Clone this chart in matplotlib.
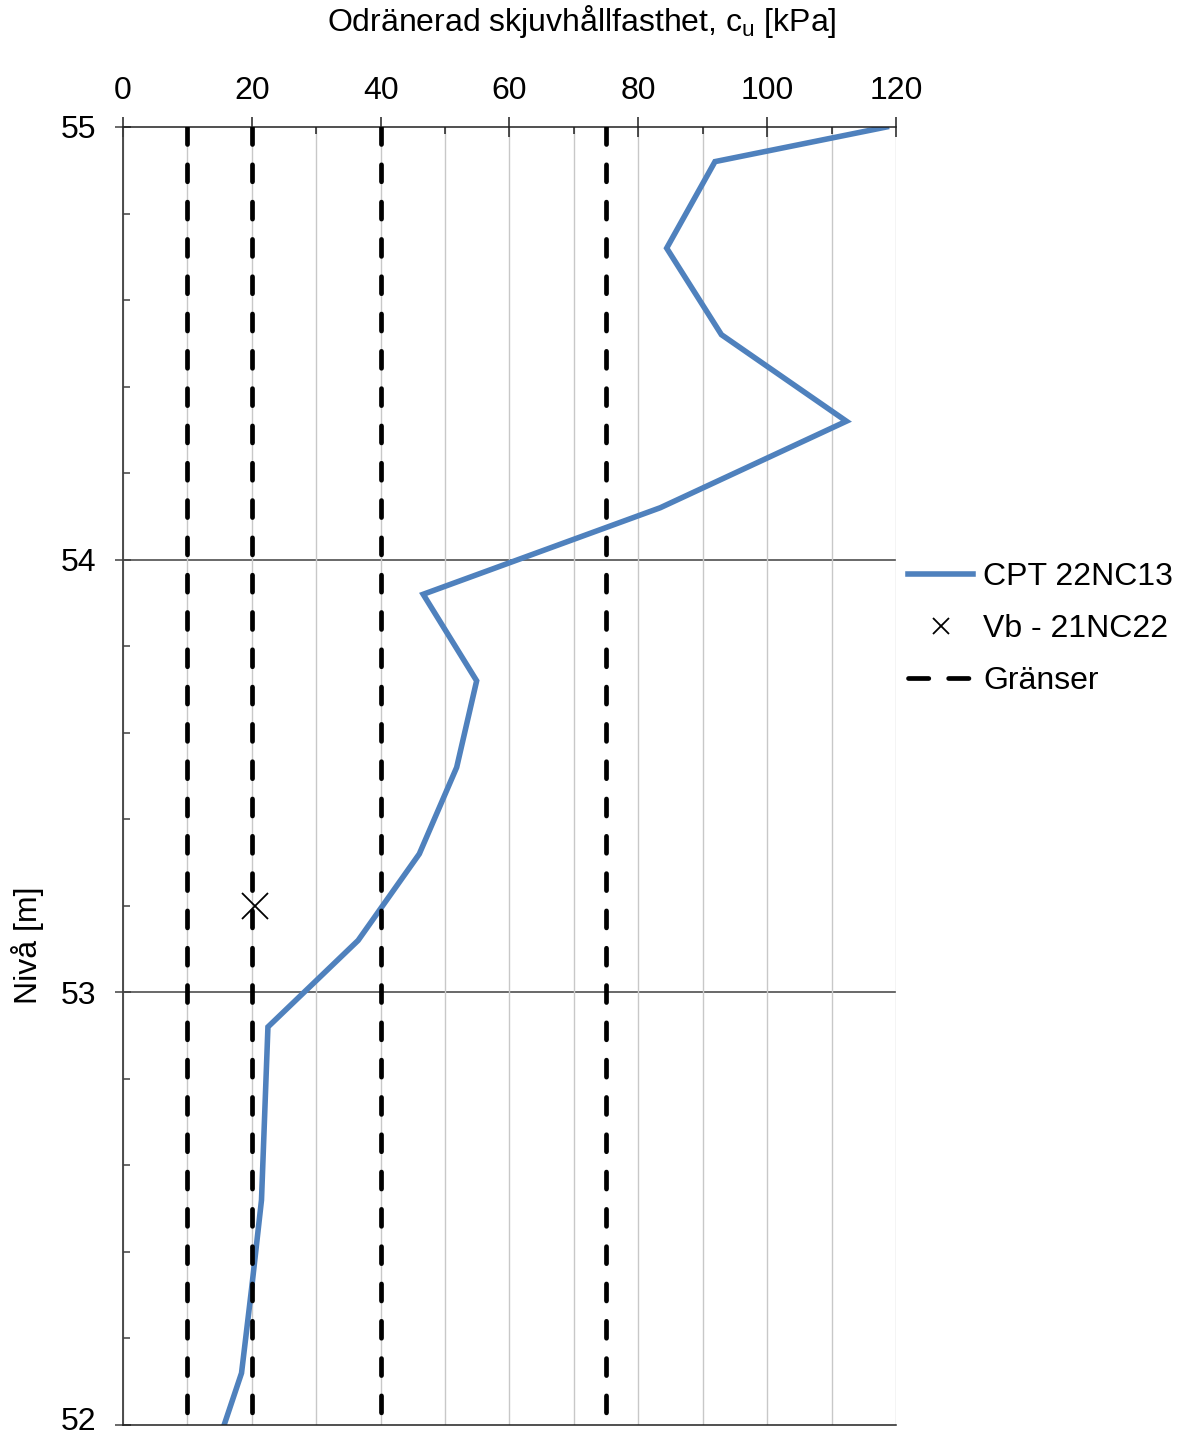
import matplotlib
matplotlib.use("Agg")
import matplotlib.pyplot as plt
from matplotlib.ticker import MultipleLocator
from matplotlib.lines import Line2D
from matplotlib.transforms import ScaledTranslation

plt.rcParams["font.family"] = ["Liberation Sans", "DejaVu Sans"]
plt.rcParams["mathtext.fontset"] = "custom"
plt.rcParams["mathtext.rm"] = "Liberation Sans"

# CPT 22NC13: undrained shear strength profile
cpt_level = [55.0, 54.92, 54.72, 54.52, 54.32, 54.12, 53.92, 53.72, 53.52,
             53.32, 53.12, 52.92, 52.72, 52.52, 52.32, 52.12, 52.0]
cpt_cu = [118.5, 91.9, 84.4, 92.9, 112.3, 83.4, 46.6, 54.9, 51.8,
          46.0, 36.5, 22.5, 22.0, 21.5, 20.0, 18.4, 15.7]

# Vane test 21NC22
vb_level = [53.2]
vb_cu = [20.5]

# Limit values (Gränser)
limit_cu = [10, 20, 40, 75]
limit_level = [55.0, 52.0]

BLUE = "#4F81BD"
FS = 23

fig = plt.figure(figsize=(11.84, 14.38), dpi=100)
ax = fig.add_axes([123 / 1184, 1 - 1425 / 1438, (896 - 123) / 1184, (1425 - 127) / 1438])

ax.set_xlim(0, 120)
ax.set_ylim(52, 55)

# grid
ax.xaxis.set_major_locator(MultipleLocator(20))
ax.xaxis.set_minor_locator(MultipleLocator(10))
ax.yaxis.set_major_locator(MultipleLocator(1))
ax.yaxis.set_minor_locator(MultipleLocator(0.2))
ax.grid(axis="x", which="both", color="#C8C8C8", lw=1.0, zorder=0)
for lvl in [53, 54]:
    ax.axhline(lvl, color="#404040", lw=1.1, zorder=0.5)

ax.xaxis.tick_top()
ax.tick_params(axis="x", which="major", direction="inout", length=14, width=1.1,
               color="#202020", labelsize=FS, pad=8)
ax.tick_params(axis="x", which="minor", direction="in", length=5, width=1.1, color="#202020")
ax.tick_params(axis="y", which="major", direction="inout", length=12, width=1.1,
               color="#404040", labelsize=FS, pad=13)
ax.tick_params(axis="y", which="minor", direction="in", length=5, width=1.1, color="#404040")
ax.set_xticks([0, 20, 40, 60, 80, 100, 120])
ax.set_yticks([52, 53, 54, 55])

ax.spines["right"].set_visible(False)
ax.spines["top"].set_color("#202020")
ax.spines["top"].set_linewidth(1.1)
ax.spines["bottom"].set_color("#202020")
ax.spines["bottom"].set_linewidth(1.1)
ax.spines["left"].set_color("#404040")
ax.spines["left"].set_linewidth(1.3)

# keep the lowest level label inside the figure edge
fig.canvas.draw()
lowest = ax.get_yticklabels()[0]
lowest.set_transform(lowest.get_transform() + ScaledTranslation(0, 6 / 100, fig.dpi_scale_trans))

# CPT profile
ax.plot(cpt_cu, cpt_level, color=BLUE, lw=4.0, solid_joinstyle="miter", zorder=2)

# limit lines
for c in limit_cu:
    ax.plot([c, c], limit_level, color="black", lw=3.4, dashes=(3.6, 4.3),
            dash_capstyle="round", zorder=3)

# vane test
ax.plot(vb_cu, vb_level, ls="none", marker="x", ms=19, mew=1.3, color="black", zorder=4)

# titles
fig.text(582 / 1184, 1 - 22 / 1438, "Odränerad skjuvhållfasthet, $\\mathregular{c_u}$ [kPa]",
         ha="center", va="center", fontsize=FS)
fig.text(28 / 1184, 1 - 945 / 1438, "Nivå [m]", rotation=90, ha="center", va="center",
         fontsize=FS)

handles = [
    Line2D([], [], color=BLUE, lw=4.0),
    Line2D([], [], ls="none", marker="x", ms=12, mew=1.3, color="black"),
    Line2D([], [], color="black", lw=3.4, dashes=(4.3, 4.2), dash_capstyle="round"),
]
labels = ["CPT 22NC13", "Vb - 21NC22", "Gränser"]
fig.legend(handles, labels, loc="center left",
           bbox_to_anchor=(908 / 1184, 1 - 629 / 1438), frameon=False,
           fontsize=FS, borderpad=0, borderaxespad=0, handlelength=2.05,
           handletextpad=0.3, labelspacing=0.69)

fig.savefig("out.png", dpi=100)
